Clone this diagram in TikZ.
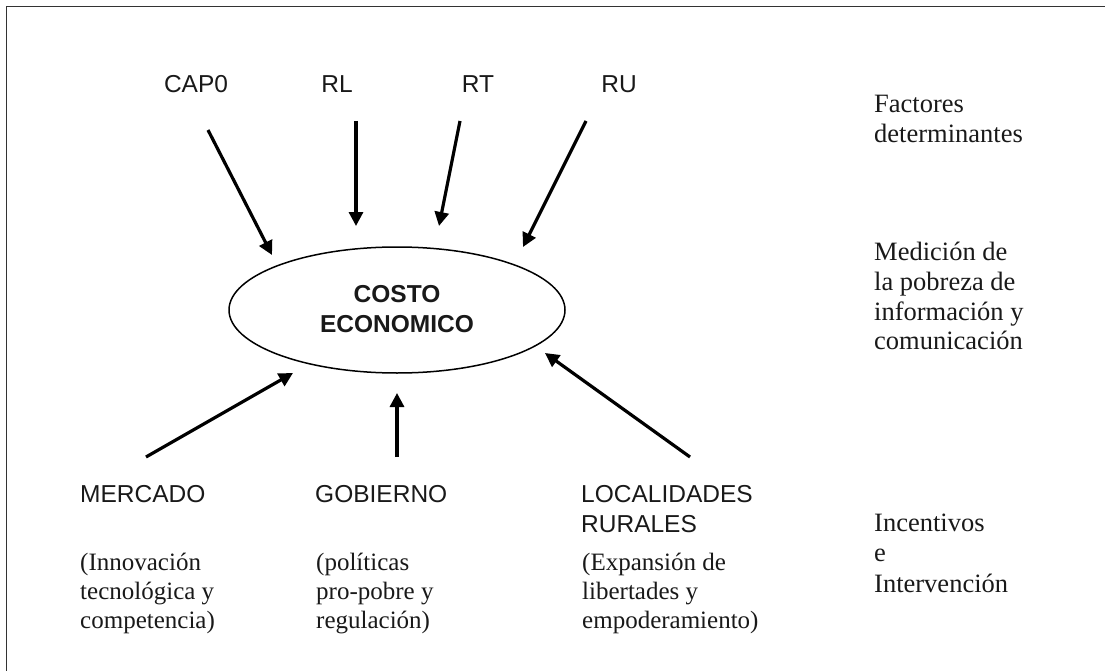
\documentclass[tikz,border=0pt]{standalone}
\usepackage{fontspec}
\setmainfont{Liberation Serif}
\newfontfamily\arialf{Liberation Sans}
\usetikzlibrary{arrows.meta}
\begin{document}
\begin{tikzpicture}[x=1pt,y=-1pt,
  lbl/.style={font=\arialf\fontsize{24.5}{30}\selectfont, inner sep=0pt, text=black!90},
  ser/.style={font=\fontsize{25}{30}\selectfont, inner sep=0pt, anchor=base west, text=black!90},
  serr/.style={font=\fontsize{26.5}{30}\selectfont, inner sep=0pt, anchor=base west, text=black!90},
  arr/.style={line width=3.2pt, -{Triangle[length=14pt,width=14pt]}},
  frame/.style={line width=1pt, black!80}]
\useasboundingbox (0,0) rectangle (1105,671);
\draw[frame] (6,690) -- (6,7) -- (1120,7);

% central ellipse
\draw[line width=1.5pt] (397,310) ellipse [x radius=168, y radius=63];
\node[lbl, font=\arialf\bfseries\fontsize{24.5}{30}\selectfont, anchor=base] (costo) at (397,302) {COSTO};
\node[lbl, font=\arialf\bfseries\fontsize{24.5}{30}\selectfont, anchor=base] (econ) at (397,332) {ECONOMICO};

% top factors
\node[lbl, anchor=base] (cap) at (196,93) {CAP0};
\node[lbl, anchor=base] (rl) at (337,93) {RL};
\node[lbl, anchor=base] (rt) at (478,93) {RT};
\node[lbl, anchor=base] (ru) at (619,93) {RU};

\coordinate (capS) at (208,130); \coordinate (capE) at (272,255);
\coordinate (rlS) at (356,121);  \coordinate (rlE) at (356,226);
\coordinate (rtS) at (460,121);  \coordinate (rtE) at (439,226);
\coordinate (ruS) at (586,121);  \coordinate (ruE) at (523,247);
\draw[arr] (capS) -- (capE);
\draw[arr] (rlS) -- (rlE);
\draw[arr] (rtS) -- (rtE);
\draw[arr] (ruS) -- (ruE);

% bottom actors
\node[lbl, anchor=base west] (merc) at (80,502) {MERCADO};
\node[lbl, anchor=base west] (gob) at (315,502) {GOBIERNO};
\node[lbl, anchor=base west] (loc1) at (581,502) {LOCALIDADES};
\node[lbl, anchor=base west] (loc2) at (581,532) {RURALES};

\node[ser] (m1) at (80,570) {(Innovación};
\node[ser] (m2) at (80,599) {tecnológica y};
\node[ser] (m3) at (80,628) {competencia)};
\node[ser] (g1) at (316,570) {(políticas};
\node[ser] (g2) at (316,599) {pro-pobre y};
\node[ser] (g3) at (316,628) {regulación)};
\node[ser] (l1) at (582,570) {(Expansión de};
\node[ser] (l2) at (582,599) {libertades y};
\node[ser] (l3) at (582,628) {empoderamiento)};

\coordinate (mS) at (146,457); \coordinate (mE) at (293,373);
\coordinate (gS) at (397,457); \coordinate (gE) at (397,393);
\coordinate (lS) at (690,457); \coordinate (lE) at (545,353);
\draw[arr] (mS) -- (mE);
\draw[arr] (gS) -- (gE);
\draw[arr] (lS) -- (lE);

% right column
\node[serr] (f1) at (874,113) {Factores};
\node[serr] (f2) at (874,143) {determinantes};
\node[serr] (p1) at (874,260) {Medición de};
\node[serr] (p2) at (874,290) {la pobreza de};
\node[serr] (p3) at (874,320) {información y};
\node[serr] (p4) at (874,349) {comunicación};
\node[serr] (i1) at (874,531) {Incentivos};
\node[serr] (i2) at (874,561) {e};
\node[serr] (i3) at (874,592) {Intervención};
\end{tikzpicture}
\end{document}
